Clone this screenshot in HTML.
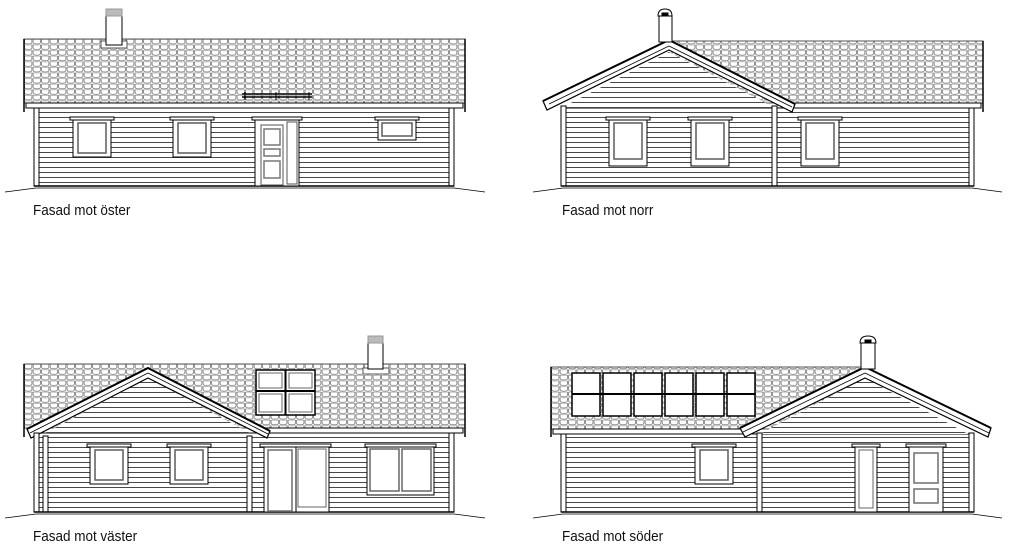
<!DOCTYPE html>
<html><head><meta charset="utf-8"><style>
html,body{margin:0;padding:0;background:#fff;}
svg{display:block}
text{font-family:"Liberation Sans",sans-serif;font-size:15px;fill:#111}
</style></head><body>
<svg width="1024" height="548" viewBox="0 0 1024 548" xmlns="http://www.w3.org/2000/svg">
<defs>
<pattern id="tile" width="8.5" height="5.6" patternUnits="userSpaceOnUse" x="24" y="39">
<rect width="8.5" height="5.6" fill="#fff"/>
<path d="M0.6,0 V3.4 Q0.6,5 4.25,5 Q7.9,5 7.9,3.4 V0" fill="none" stroke="#777" stroke-width="0.8"/>
<line x1="0" y1="0.4" x2="8.5" y2="0.4" stroke="#999" stroke-width="0.6"/>
</pattern>
<pattern id="side" width="10" height="5" patternUnits="userSpaceOnUse" y="108">
<rect width="10" height="5" fill="#fff"/>
<line x1="0" y1="4.5" x2="10" y2="4.5" stroke="#333" stroke-width="0.9"/>
</pattern>
<g id="win38">
<rect x="-3" y="0" width="44" height="3" fill="#fff" stroke="#000" stroke-width="1"/>
<rect x="0" y="3" width="38" height="37" fill="#fff" stroke="#000" stroke-width="1"/>
<rect x="5" y="6" width="28" height="30" fill="#fff" stroke="#666" stroke-width="1.6"/>
</g>
<g id="win38t">
<rect x="-3" y="0" width="44" height="3" fill="#fff" stroke="#000" stroke-width="1"/>
<rect x="0" y="3" width="38" height="46" fill="#fff" stroke="#000" stroke-width="1"/>
<rect x="5" y="6" width="28" height="36" fill="#fff" stroke="#666" stroke-width="1.6"/>
</g>
</defs>

<!-- ===== EAST ===== -->
<g stroke="#000" stroke-width="1">
<rect x="24" y="39" width="441" height="64" fill="url(#tile)" stroke="#555"/>
<line x1="24" y1="39" x2="24" y2="112" stroke-width="1.5"/>
<line x1="465" y1="39" x2="465" y2="112" stroke-width="1.5"/>
<rect x="26" y="103" width="437" height="5" fill="#fff"/>
<rect x="34" y="108" width="420" height="78" fill="url(#side)"/>
<rect x="34" y="108" width="5" height="78" fill="#fff"/>
<rect x="449" y="108" width="5" height="78" fill="#fff"/>
<polyline points="5,192 36,188 454,188 485,192" fill="none" stroke-width="0.8"/>
<line x1="34" y1="186" x2="454" y2="186" stroke-width="1.5"/>
<rect x="101" y="41" width="26" height="7" fill="#fff" stroke="#555"/>
<rect x="106" y="16" width="16" height="29" fill="#fff"/>
<rect x="106" y="9" width="16" height="7" fill="#bbb" stroke="#999"/>
<line x1="242" y1="94" x2="312" y2="94" stroke-width="1.5"/>
<line x1="242" y1="97" x2="312" y2="97" stroke-width="1.5"/>
<line x1="245" y1="92" x2="245" y2="100"/><line x1="276" y1="92" x2="276" y2="100"/><line x1="309" y1="92" x2="309" y2="100"/>
<use href="#win38" x="73" y="117"/>
<use href="#win38" x="173" y="117"/>
<rect x="252" y="117" width="50" height="3" fill="#fff"/>
<rect x="255" y="120" width="44" height="66" fill="#fff"/>
<rect x="261" y="125" width="22" height="60" fill="#fff" stroke="#555"/>
<rect x="264" y="129" width="16" height="16" fill="#fff" stroke="#777" stroke-width="1.5"/>
<rect x="264" y="149" width="16" height="7" fill="#fff" stroke="#777" stroke-width="1.5"/>
<rect x="264" y="161" width="16" height="17" fill="#fff" stroke="#777" stroke-width="1.5"/>
<rect x="287" y="122" width="10" height="62" fill="#fff" stroke="#555"/>
<rect x="375" y="117" width="44" height="3" fill="#fff"/>
<rect x="378" y="120" width="38" height="20" fill="#fff"/>
<rect x="382" y="123" width="30" height="13" fill="#fff" stroke="#666" stroke-width="1.6"/>
</g>
<text x="33" y="215" transform="translate(33,0) scale(0.9,1) translate(-33,0)">Fasad mot öster</text>

<!-- ===== NORTH ===== -->
<g stroke="#000" stroke-width="1">
<rect x="672" y="41" width="311" height="62" fill="url(#tile)" stroke="#555"/>
<line x1="983" y1="41" x2="983" y2="112" stroke-width="1.5"/>
<rect x="785" y="103" width="196" height="5" fill="#fff"/>
<rect x="561" y="108" width="413" height="78" fill="url(#side)"/>
<polygon points="561,108 669,52 775,108" fill="url(#side)" stroke="none"/>
<polygon points="543,101 669,40 795,104 792,112 669,50 547,110" fill="#fff" stroke-width="1.2"/>
<polyline points="543,101 669,40 795,104" fill="none" stroke-width="2"/>
<line x1="549" y1="104" x2="669" y2="46" stroke-width="0.8"/>
<line x1="669" y1="46" x2="792" y2="107" stroke-width="0.8"/>
<rect x="561" y="106" width="5" height="80" fill="#fff"/>
<rect x="969" y="108" width="5" height="78" fill="#fff"/>
<rect x="772" y="106" width="5" height="80" fill="#fff"/>
<line x1="561" y1="186" x2="974" y2="186" stroke-width="1.5"/>
<polyline points="533,192 563,188 972,188 1002,192" fill="none" stroke-width="0.8"/>
<rect x="659" y="16" width="13" height="26" fill="#fff"/>
<path d="M658,16 Q658,9 665,9 Q672,9 672,16 Z" fill="#fff"/>
<rect x="662" y="13" width="6" height="3" fill="#000"/>
<use href="#win38t" x="609" y="117"/>
<use href="#win38t" x="691" y="117"/>
<use href="#win38t" x="801" y="117"/>
</g>
<text x="562" y="215" transform="translate(562,0) scale(0.9,1) translate(-562,0)">Fasad mot norr</text>

<!-- ===== WEST ===== -->
<g stroke="#000" stroke-width="1">
<rect x="24" y="364" width="441" height="64" fill="url(#tile)" stroke="#555"/>
<line x1="24" y1="364" x2="24" y2="437" stroke-width="1.5"/>
<line x1="465" y1="364" x2="465" y2="437" stroke-width="1.5"/>
<rect x="265" y="428" width="198" height="5" fill="#fff"/>
<rect x="34" y="433" width="420" height="79" fill="url(#side)"/>
<polygon points="45,433 148,378 250,433" fill="url(#side)" stroke="none"/>
<polygon points="27,429 148,368 270,431 267,438 148,378 31,438" fill="#fff" stroke-width="1.2"/>
<polyline points="27,429 148,368 270,431" fill="none" stroke-width="2"/>
<line x1="30" y1="433" x2="148" y2="373" stroke-width="0.8"/>
<line x1="148" y1="373" x2="268" y2="434" stroke-width="0.8"/>
<rect x="34" y="433" width="5" height="79" fill="#fff"/>
<rect x="43" y="436" width="5" height="76" fill="#fff"/>
<rect x="247" y="436" width="5" height="76" fill="#fff"/>
<rect x="449" y="433" width="5" height="79" fill="#fff"/>
<line x1="34" y1="512" x2="454" y2="512" stroke-width="1.5"/>
<polyline points="5,518 36,514 454,514 485,518" fill="none" stroke-width="0.8"/>
<rect x="363" y="368" width="26" height="6" fill="#fff" stroke="#555"/>
<rect x="368" y="343" width="15" height="26" fill="#fff"/>
<rect x="368" y="336" width="15" height="7" fill="#bbb" stroke="#999"/>
<rect x="256" y="370" width="59" height="45" fill="#fff" stroke-width="1.5"/>
<line x1="285.5" y1="370" x2="285.5" y2="415" stroke-width="2"/>
<line x1="256" y1="391" x2="315" y2="391" stroke-width="2"/>
<rect x="259" y="373" width="23" height="15" fill="none" stroke="#666"/>
<rect x="289" y="373" width="23" height="15" fill="none" stroke="#666"/>
<rect x="259" y="394" width="23" height="18" fill="none" stroke="#666"/>
<rect x="289" y="394" width="23" height="18" fill="none" stroke="#666"/>
<use href="#win38" x="90" y="444"/>
<use href="#win38" x="170" y="444"/>
<rect x="260" y="444" width="71" height="3" fill="#fff"/>
<rect x="264" y="447" width="32" height="65" fill="#fff"/>
<rect x="268" y="450" width="24" height="61" fill="#fff" stroke="#777" stroke-width="1.6"/>
<rect x="296" y="447" width="33" height="65" fill="#fff"/>
<rect x="298" y="449" width="28" height="58" fill="#fff" stroke="#666"/>
<rect x="365" y="444" width="71" height="3" fill="#fff"/>
<rect x="367" y="447" width="67" height="48" fill="#fff"/>
<rect x="370" y="449" width="29" height="42" fill="#fff" stroke="#666" stroke-width="1.5"/>
<rect x="402" y="449" width="29" height="42" fill="#fff" stroke="#666" stroke-width="1.5"/>
</g>
<text x="33" y="541" transform="translate(33,0) scale(0.9,1) translate(-33,0)">Fasad mot väster</text>

<!-- ===== SOUTH ===== -->
<g stroke="#000" stroke-width="1">
<rect x="551" y="367" width="317" height="62" fill="url(#tile)" stroke="#555"/>
<line x1="551" y1="367" x2="551" y2="437" stroke-width="1.5"/>
<rect x="553" y="429" width="195" height="5" fill="#fff"/>
<rect x="561" y="434" width="413" height="78" fill="url(#side)"/>
<polygon points="760,434 865,378 968,434" fill="url(#side)" stroke="none"/>
<polygon points="740,428 865,367 991,428 988,437 865,378 745,437" fill="#fff" stroke-width="1.2"/>
<polyline points="740,428 865,367 991,428" fill="none" stroke-width="2"/>
<line x1="743" y1="432" x2="865" y2="373" stroke-width="0.8"/>
<line x1="865" y1="373" x2="989" y2="433" stroke-width="0.8"/>
<rect x="561" y="434" width="5" height="78" fill="#fff"/>
<rect x="757" y="433" width="5" height="79" fill="#fff"/>
<rect x="969" y="433" width="5" height="79" fill="#fff"/>
<line x1="561" y1="512" x2="974" y2="512" stroke-width="1.5"/>
<polyline points="533,518 563,514 972,514 1002,518" fill="none" stroke-width="0.8"/>
<rect x="861" y="343" width="14" height="26" fill="#fff"/>
<path d="M860,343 Q860,336 868,336 Q876,336 876,343 Z" fill="#fff"/>
<rect x="865" y="340" width="6" height="3" fill="#000"/>
<g fill="#fff" stroke-width="1.5">
<rect x="572" y="373" width="28" height="43"/><rect x="603" y="373" width="28" height="43"/>
<rect x="634" y="373" width="28" height="43"/><rect x="665" y="373" width="28" height="43"/>
<rect x="696" y="373" width="28" height="43"/><rect x="727" y="373" width="28" height="43"/>
</g>
<line x1="572" y1="394" x2="755" y2="394" stroke-width="2"/>
<use href="#win38" x="695" y="444"/>
<rect x="852" y="444" width="28" height="3" fill="#fff"/>
<rect x="855" y="447" width="22" height="65" fill="#fff"/>
<rect x="859" y="450" width="14" height="58" fill="#fff" stroke="#666"/>
<rect x="906" y="444" width="40" height="3" fill="#fff"/>
<rect x="909" y="447" width="34" height="65" fill="#fff"/>
<rect x="914" y="453" width="24" height="30" fill="#fff" stroke="#777" stroke-width="1.6"/>
<rect x="914" y="489" width="24" height="14" fill="#fff" stroke="#777" stroke-width="1.6"/>
</g>
<text x="562" y="541" transform="translate(562,0) scale(0.9,1) translate(-562,0)">Fasad mot söder</text>
</svg>
</body></html>
